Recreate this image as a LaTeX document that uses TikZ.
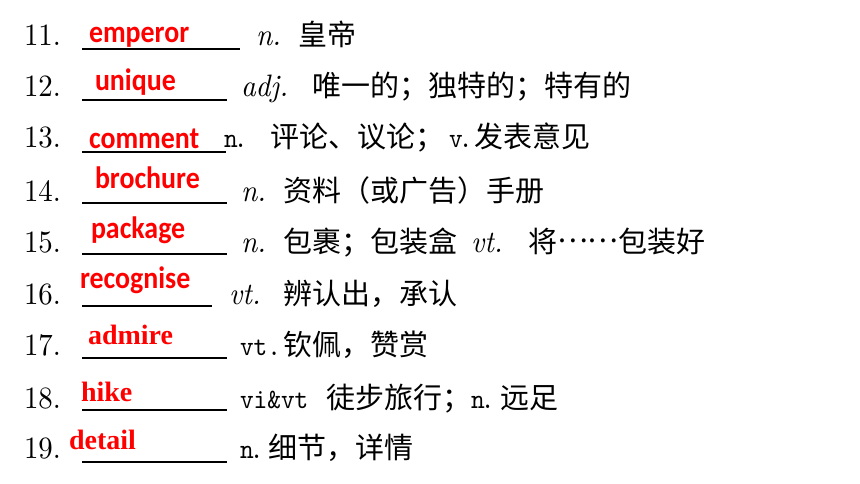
\documentclass[tikz,border=0pt]{standalone}
\usepackage{fontspec}
\usepackage{graphicx}
\newfontfamily\cjk{Noto Sans CJK SC}
\newfontfamily\carl{Carlito}
\newfontfamily\lserif{Liberation Serif}
\newfontfamily\lmtt{lmmono10-regular.otf}
\newfontfamily\lmten{lmroman10-regular.otf}[ItalicFont=lmroman10-italic.otf]
\newcommand{\sqz}[2][0.93]{\scalebox{#1}[1]{#2}}
\newcommand{\mdots}{\raisebox{0.33em}{……}}
\tikzset{
  t/.style={inner sep=0pt, outer sep=0pt, anchor=base west},
  num/.style={t, font=\lmten\fontsize{31}{31}\selectfont},
  wordclass/.style={t, font=\lmten\itshape\fontsize{31}{31}\selectfont},
  zh/.style={t, font=\cjk\fontsize{29}{29}\selectfont},
  ans/.style={t, text=red, font=\carl\bfseries\fontsize{31}{31}\selectfont},
  ansb/.style={t, text=red, font=\lserif\bfseries\fontsize{28}{28}\selectfont},
  mono/.style={t, font=\lmtt\fontsize{28}{28}\selectfont},
  blank/.style={line width=1.5pt}
}
\begin{document}
\begin{tikzpicture}[x=1pt,y=-1pt]
\useasboundingbox[fill=white] (0,0) rectangle (860,484);
% 11
\node[num] (n11) at (24,46) {\sqz{11.}};
\node[ans] (a11) at (89,43) {\sqz[0.9]{emperor}};
\coordinate (u11a) at (82,49); \coordinate (u11b) at (240,49);
\draw[blank] (u11a) -- (u11b);
\node[wordclass] (p11) at (256,46) {\sqz{n.}};
\node[zh] (d11) at (298,46) {皇帝};
% 12
\node[num] (n12) at (24,97) {\sqz{12.}};
\node[ans] (a12) at (95,91) {\sqz[0.9]{unique}};
\coordinate (u12a) at (82,100); \coordinate (u12b) at (227,100);
\draw[blank] (u12a) -- (u12b);
\node[wordclass] (p12) at (241,97) {\sqz{adj.}};
\node[zh] (d12) at (312,97) {唯一的；独特的；特有的};
% 13
\node[num] (n13) at (24,148) {\sqz{13.}};
\node[ans] (a13) at (89,149) {\sqz[0.9]{comment}};
\coordinate (u13a) at (82,152); \coordinate (u13b) at (226,152);
\draw[blank] (u13a) -- (u13b);
\node[mono] (p13) at (224,148) {\sqz{n\kern-4pt.}};
\node[zh] (d13) at (270,148) {评论、议论；};
\node[mono] (v13) at (449,148) {\sqz{v\kern-4pt.}};
\node[zh] (e13) at (474,148) {发表意见};
% 14
\node[num] (n14) at (24,201) {\sqz{14.}};
\node[ans] (a14) at (95,189) {\sqz[0.9]{brochure}};
\coordinate (u14a) at (82,203); \coordinate (u14b) at (227,203);
\draw[blank] (u14a) -- (u14b);
\node[wordclass] (p14) at (241,201) {\sqz{n.}};
\node[zh] (d14) at (283,201) {资料（或广告）手册};
% 15
\node[num] (n15) at (24,252) {\sqz{15.}};
\node[ans] (a15) at (91,238) {\sqz[0.9]{package}};
\coordinate (u15a) at (82,254); \coordinate (u15b) at (227,254);
\draw[blank] (u15a) -- (u15b);
\node[wordclass] (p15) at (241,252) {\sqz{n.}};
\node[zh] (d15) at (283,252) {包裹；包装盒};
\node[wordclass] (q15) at (471,252) {\sqz{vt.}};
\node[zh] (e15) at (528,252) {将\mdots 包装好};
% 16
\node[num] (n16) at (24,304) {\sqz{16.}};
\node[ans] (a16) at (80,288) {\sqz[0.9]{recognise}};
\coordinate (u16a) at (82,306); \coordinate (u16b) at (212,306);
\draw[blank] (u16a) -- (u16b);
\node[wordclass] (p16) at (229,304) {\sqz{vt.}};
\node[zh] (d16) at (283,304) {辨认出，承认};
% 17
\node[num] (n17) at (24,355) {\sqz{17.}};
\node[ansb] (a17) at (88,344) {admire};
\coordinate (u17a) at (82,358); \coordinate (u17b) at (227,358);
\draw[blank] (u17a) -- (u17b);
\node[mono] (p17) at (240,355) {\sqz{vt.}};
\node[zh] (d17) at (283,355) {钦佩，赞赏};
% 18
\node[num] (n18) at (24,408) {\sqz{18.}};
\node[ansb] (a18) at (81,401) {hike};
\coordinate (u18a) at (82,410); \coordinate (u18b) at (227,410);
\draw[blank] (u18a) -- (u18b);
\node[mono] (p18) at (240,408) {\sqz{vi\&vt}};
\node[zh] (d18) at (326,408) {徒步旅行；};
\node[mono] (q18) at (471,408) {\sqz{n\kern-4pt.}};
\node[zh] (e18) at (500,408) {远足};
% 19
\node[num] (n19) at (24,458) {\sqz{19.}};
\node[ansb] (a19) at (69,449) {detail};
\coordinate (u19a) at (82,462); \coordinate (u19b) at (227,462);
\draw[blank] (u19a) -- (u19b);
\node[mono] (p19) at (240,458) {\sqz{n\kern-4pt.}};
\node[zh] (d19) at (268,458) {细节，详情};
\end{tikzpicture}
\end{document}
